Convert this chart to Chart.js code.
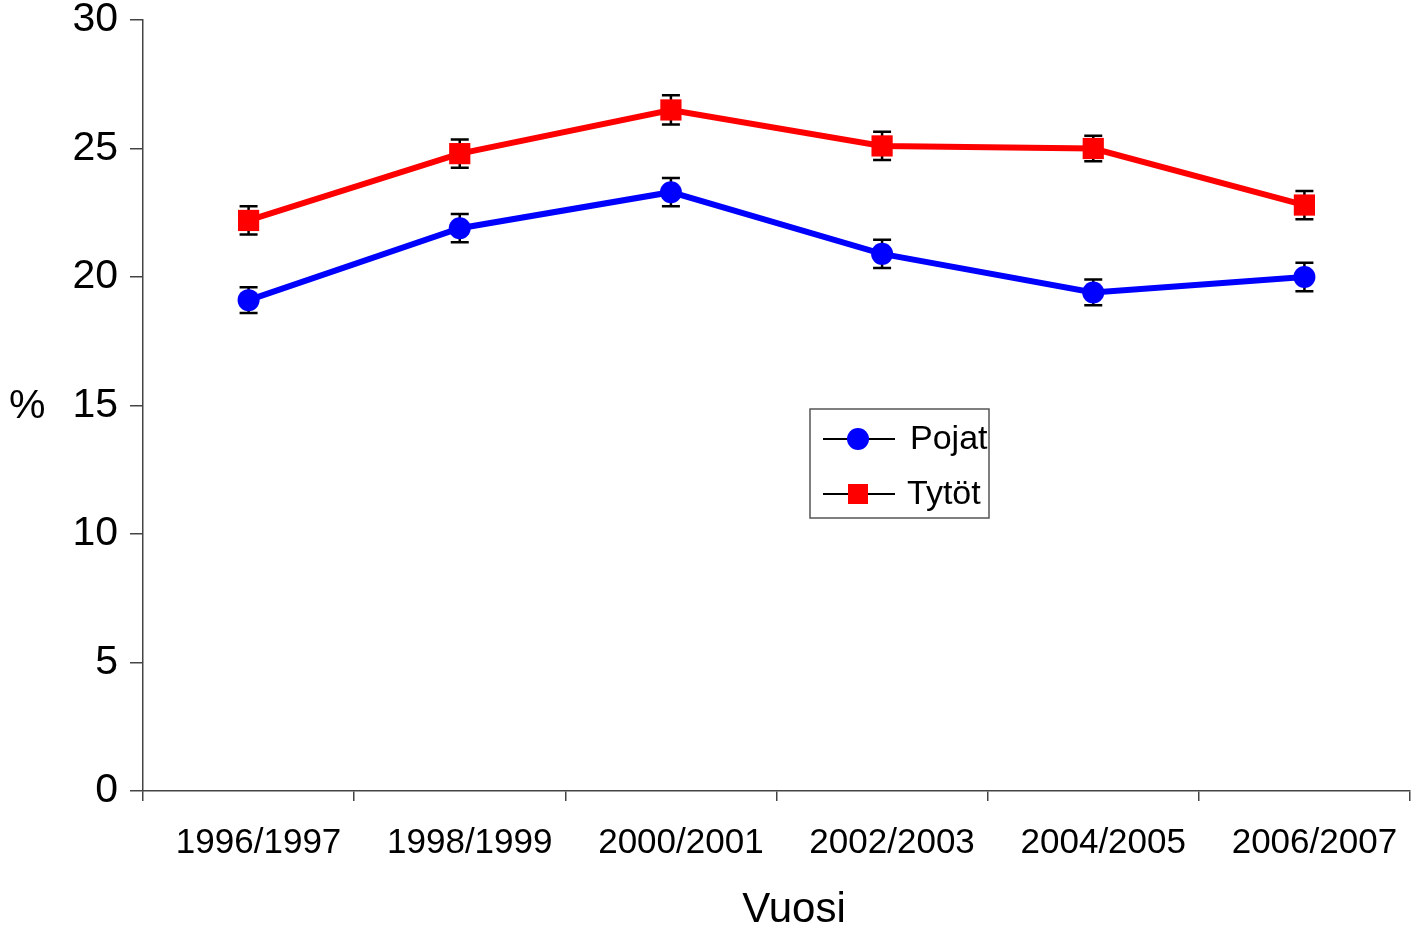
<!DOCTYPE html>
<html>
<head>
<meta charset="utf-8">
<script src="https://cdn.jsdelivr.net/npm/chart.js@4/dist/chart.umd.min.js"></script>
<style>
  html, body { margin: 0; padding: 0; background: #fff; }
  #wrap { position: relative; width: 1412px; height: 930px; }
  .lab { position: absolute; font-family: "Liberation Sans", Arial, sans-serif; color: #000; white-space: nowrap; }
  #ylab { left: 9px; top: 381px; font-size: 41px; }
  #xlab { left: 794px; top: 884px; font-size: 42px; transform: translateX(-50%); }
</style>
</head>
<body>
<div id="wrap">
  <canvas id="chart" width="1412" height="930"></canvas>
  <div id="ylab" class="lab">%</div>
  <div id="xlab" class="lab">Vuosi</div>
</div>
<script>
// Data
const years = ['1996/1997', '1998/1999', '2000/2001', '2002/2003', '2004/2005', '2006/2007'];
const pojat = [19.1, 21.9, 23.3, 20.9, 19.4, 20.0];
const pojatErr = [0.5, 0.55, 0.55, 0.55, 0.5, 0.55];
const tytot = [22.2, 24.8, 26.5, 25.1, 25.0, 22.8];
const tytotErr = [0.55, 0.55, 0.57, 0.55, 0.5, 0.55];
const yTicks = [0, 5, 10, 15, 20, 25, 30];

const FONT = '"Liberation Sans", Arial, sans-serif';
const errors = [pojatErr, tytotErr];

// vertical error bars with caps, drawn under the markers
const errorBars = {
  id: 'errorBars',
  beforeDatasetsDraw(chart) {
    const ctx = chart.ctx;
    const x = chart.scales.x, y = chart.scales.y;
    ctx.save();
    ctx.strokeStyle = '#000';
    ctx.lineWidth = 2.5;
    chart.data.datasets.forEach((ds, i) => {
      ds.data.forEach((v, j) => {
        const px = x.getPixelForValue(j);
        const top = y.getPixelForValue(v + errors[i][j]);
        const bot = y.getPixelForValue(v - errors[i][j]);
        ctx.beginPath();
        ctx.moveTo(px, top); ctx.lineTo(px, bot);
        ctx.moveTo(px - 9, top); ctx.lineTo(px + 9, top);
        ctx.moveTo(px - 9, bot); ctx.lineTo(px + 9, bot);
        ctx.stroke();
      });
    });
    ctx.restore();
  }
};

// boxed legend inside the plot
const boxLegend = {
  id: 'boxLegend',
  afterDraw(chart) {
    const ctx = chart.ctx;
    const bx = 810, by = 409, bw = 179, bh = 109;
    ctx.save();
    ctx.strokeStyle = '#555';
    ctx.lineWidth = 1.5;
    ctx.strokeRect(bx, by, bw, bh);
    ctx.beginPath();
    ctx.rect(bx, by, bw, bh);
    ctx.clip();
    const rows = [439, 494];
    chart.data.datasets.forEach((ds, i) => {
      const ry = rows[i];
      ctx.strokeStyle = '#000';
      ctx.lineWidth = 2;
      ctx.beginPath();
      ctx.moveTo(823, ry); ctx.lineTo(895, ry);
      ctx.stroke();
      ctx.fillStyle = ds.backgroundColor;
      if (ds.pointStyle === 'rect') {
        ctx.fillRect(848, ry - 10, 20, 20);
      } else {
        ctx.beginPath();
        ctx.arc(858, ry, 11, 0, Math.PI * 2);
        ctx.fill();
      }
      ctx.fillStyle = '#000';
      ctx.font = '34px ' + FONT;
      ctx.textBaseline = 'middle';
      ctx.textAlign = 'left';
      ctx.fillText(ds.label, i === 0 ? 910 : 907, ry + 1);
    });
    ctx.restore();
  }
};

new Chart(document.getElementById('chart'), {
  type: 'line',
  data: {
    labels: years,
    datasets: [{
      label: 'Pojat',
      data: pojat,
      borderColor: '#0000ff',
      backgroundColor: '#0000ff',
      borderWidth: 6,
      pointStyle: 'circle',
      pointRadius: 11,
      pointBorderWidth: 0,
      pointHoverRadius: 11
    }, {
      label: 'Tytöt',
      data: tytot,
      borderColor: '#ff0000',
      backgroundColor: '#ff0000',
      borderWidth: 6,
      pointStyle: 'rect',
      pointRadius: 15,
      pointBorderWidth: 0,
      pointHoverRadius: 15
    }]
  },
  options: {
    responsive: false,
    animation: false,
    layout: { autoPadding: false, padding: { top: 20, right: 2, left: 0, bottom: 0 } },
    plugins: {
      legend: { display: false },
      tooltip: { enabled: false }
    },
    scales: {
      x: {
        offset: true,
        grid: { offset: true, drawOnChartArea: false, tickLength: 10, color: '#444', lineWidth: 1.5 },
        border: { color: '#444', width: 1.5 },
        ticks: { color: '#000', font: { family: FONT, size: 35 }, padding: 21, labelOffset: 10, maxRotation: 0 },
        afterFit: s => { s.height = 139; s.paddingLeft = 0; s.paddingRight = 0; }
      },
      y: {
        min: 0,
        max: 30,
        afterBuildTicks: s => { s.ticks = yTicks.map(v => ({ value: v })); },
        grid: { drawOnChartArea: false, tickLength: 13, color: '#444', lineWidth: 1.5 },
        border: { color: '#444', width: 1.5 },
        ticks: { color: '#000', font: { family: FONT, size: 41 }, padding: 12 },
        afterFit: s => { s.width = 143; s.paddingTop = 0; s.paddingBottom = 0; }
      }
    }
  },
  plugins: [errorBars, boxLegend]
});
</script>
</body>
</html>
